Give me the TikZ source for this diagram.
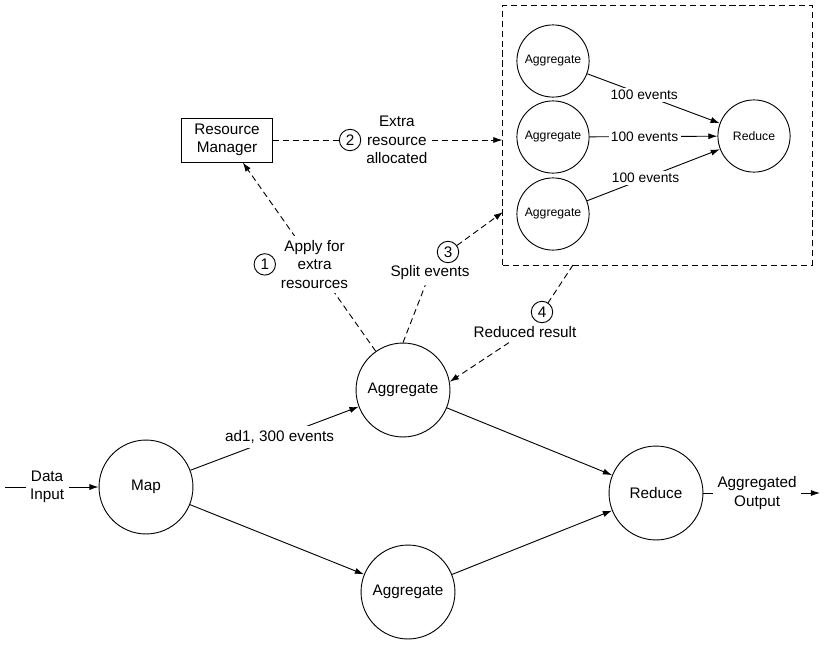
\documentclass[tikz,border=0pt]{standalone}
\usepackage{fontspec}
\setmainfont{Liberation Sans}
\usetikzlibrary{positioning,arrows.meta}
\tikzset{
  proc/.style={draw,circle,minimum size=2.16cm,inner sep=0pt},
  subproc/.style={draw,circle,minimum size=1.66cm,inner sep=0pt,font=\footnotesize},
  num/.style={draw,circle,fill=white,minimum size=14pt,inner sep=0pt},
  lbl/.style={fill=white,align=center,inner sep=3pt},
  dline/.style={dash pattern=on 4pt off 2.5pt},
}
\begin{document}
\begin{tikzpicture}[x=0.023cm,y=-0.023cm,line width=0.6pt,>={Latex[length=6pt,width=4pt]}]
  \useasboundingbox (0,0) rectangle (824,646);
  % main flow
  \node[proc] (map) at (146,487) {Map};
  \node[proc] (agg1) at (403,390) {Aggregate};
  \node[proc] (agg2) at (408,592) {Aggregate};
  \node[proc] (red) at (656,493) {Reduce};
  \coordinate (in) at (5,487);
  \coordinate (out) at (820,493);
  \draw[->] (in) -- (map) node[lbl,pos=0.45] {Data\\Input};
  \draw[->] (map) -- (agg1) node[lbl,pos=0.53] {ad1, 300 events};
  \draw[->] (map) -- (agg2);
  \draw[->] (agg1) -- (red);
  \draw[->] (agg2) -- (red);
  \draw[->] (red) -- (out) node[lbl,pos=0.46] {Aggregated\\Output};
  % extra resources
  \node[draw,align=center,minimum width=2.09cm,minimum height=1.01cm] (rm) at (227,140) {Resource\\Manager};
  \node[draw,dline,minimum width=7.11cm,minimum height=5.98cm] (cluster) at (657.5,135) {};
  \foreach \y/\n in {61/1,137/2,214/3} % aggregates in the cluster
    \node[subproc] (sub\n) at (553,\y) {Aggregate};
  \node[subproc] (subred) at (754,136) {Reduce};
  \foreach \n/\p in {1/0.43,2/0.43,3/0.44}
    \draw[->] (sub\n) -- (subred) node[lbl,inner sep=1.5pt,font=\small,pos=\p] {100 events};
  % 1: apply
  \draw[dline,->] (agg1) -- (rm) node[lbl,pos=0.46] (apply) {Apply for\\extra\\resources};
  \node[num,left=0pt of apply] {1};
  % 2: allocate
  \draw[dline,->] (rm) -- (rm -| cluster.west) node[lbl,pos=0.54] (extra) {Extra\\resource\\allocated};
  \node[num,left=0pt of extra] {2};
  % 3: split
  \coordinate (c3) at (503,212);
  \node[lbl] (split) at (430,273) {Split events};
  \node[num] (n3) at (448,252) {3};
  \draw[dline] (agg1.north) -- (split);
  \draw[dline,->] (n3) -- (c3);
  % 4: reduced result
  \coordinate (c4) at (573,265);
  \node[lbl] (reduced) at (525,332) {Reduced result};
  \node[num] (n4) at (542,312) {4};
  \draw[dline] (c4) -- (n4);
  \draw[dline,->] (reduced) -- (agg1.10);
\end{tikzpicture}
\end{document}
